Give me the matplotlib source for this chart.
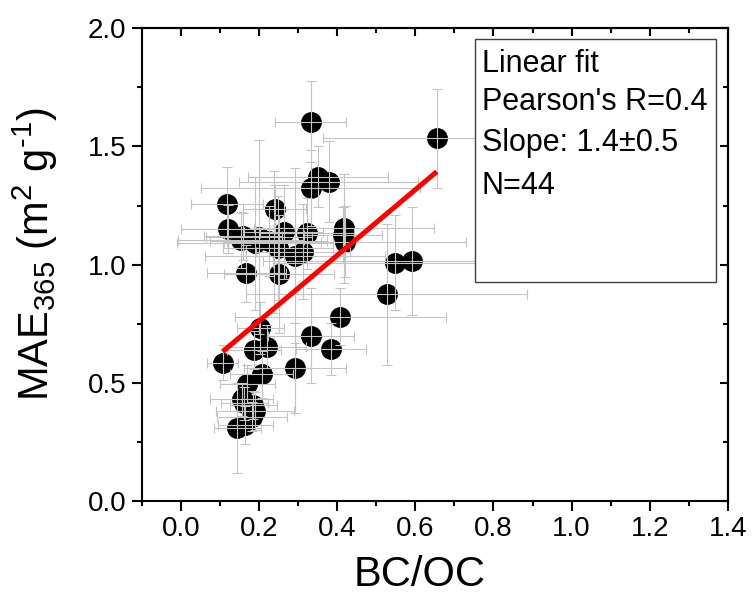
import matplotlib
matplotlib.use("Agg")
import matplotlib.pyplot as plt
from matplotlib.patches import Rectangle
import numpy as np

plt.rcParams['font.family'] = ['Liberation Sans', 'DejaVu Sans']
plt.rcParams['mathtext.fontset'] = 'custom'
plt.rcParams['mathtext.rm'] = 'Liberation Sans'
plt.rcParams['mathtext.it'] = 'Liberation Sans'
plt.rcParams['mathtext.default'] = 'regular'

bc_oc = [0.332, 0.655, 0.351, 0.378, 0.332, 0.118, 0.240, 0.121, 0.154, 0.200,
         0.190, 0.263, 0.239, 0.249, 0.322, 0.312, 0.293, 0.418, 0.420, 0.168,
         0.251, 0.547, 0.591, 0.527, 0.408, 0.332, 0.384, 0.293, 0.107, 0.203,
         0.187, 0.220, 0.207, 0.170, 0.163, 0.185, 0.183, 0.144, 0.165, 0.160,
         0.225, 0.156, 0.190, 0.415]
mae365 = [1.605, 1.535, 1.372, 1.351, 1.323, 1.255, 1.235, 1.151, 1.104, 1.118,
          1.090, 1.139, 1.097, 1.069, 1.133, 1.055, 1.037, 1.154, 1.097, 0.963,
          0.959, 1.008, 1.015, 0.874, 0.780, 0.700, 0.642, 0.561, 0.585, 0.731,
          0.639, 0.653, 0.536, 0.494, 0.413, 0.406, 0.357, 0.310, 0.322, 1.120,
          1.100, 0.430, 0.380, 1.125]
bc_oc_err = [0.09, 0.29, 0.18, 0.23, 0.28, 0.093, 0.08, 0.12, 0.16, 0.136,
             0.20, 0.10, 0.12, 0.14, 0.12, 0.12, 0.23, 0.23, 0.31, 0.10,
             0.14, 0.31, 0.38, 0.36, 0.27, 0.11, 0.09, 0.13, 0.04, 0.06,
             0.07, 0.10, 0.08, 0.07, 0.06, 0.06, 0.09, 0.06, 0.07, 0.10,
             0.15, 0.08, 0.10, 0.10]
mae365_err = [0.17, 0.21, 0.13, 0.17, 0.16, 0.16, 0.10, 0.10, 0.12, 0.41,
              0.28, 0.20, 0.30, 0.22, 0.15, 0.20, 0.37, 0.23, 0.15, 0.12,
              0.25, 0.20, 0.23, 0.30, 0.12, 0.20, 0.11, 0.19, 0.075, 0.11,
              0.08, 0.09, 0.10, 0.08, 0.07, 0.06, 0.06, 0.19, 0.08, 0.10,
              0.15, 0.07, 0.08, 0.12]

fit_slope = 1.39
fit_intercept = 0.483
legend_lines = ["Linear fit", "Pearson's R=0.4", "Slope: 1.4\u00b10.5", "N=44"]

x_ticks = [0.0, 0.2, 0.4, 0.6, 0.8, 1.0, 1.2, 1.4]
y_ticks = [0.0, 0.5, 1.0, 1.5, 2.0]

fig = plt.figure(figsize=(7.56, 5.94), dpi=100)
ax = fig.add_axes([0.1874, 0.1566, 0.9630 - 0.1874, 0.9524 - 0.1566])

ax.plot(bc_oc, mae365, 'o', color='black', markersize=14, zorder=2, linestyle='none')
ax.errorbar(bc_oc, mae365, xerr=bc_oc_err, yerr=mae365_err, fmt='none',
            ecolor='#c4c4c4', elinewidth=0.8, capsize=3.5, capthick=0.8, zorder=3)

xf = np.array([min(bc_oc), max(bc_oc)])
ax.plot(xf, fit_intercept + fit_slope * xf, color='#ff0000', lw=3.6, zorder=4,
        solid_capstyle='butt')

ax.set_xlim(-0.1, 1.4)
ax.set_ylim(0.0, 2.0)
ax.set_xticks(x_ticks)
ax.set_yticks(y_ticks)
ax.set_xticklabels([f"{v:.1f}" for v in x_ticks])
ax.set_yticklabels([f"{v:.1f}" for v in y_ticks])
ax.set_xticks(np.arange(-0.1, 1.41, 0.2), minor=True)
ax.set_yticks([0.25, 0.75, 1.25, 1.75], minor=True)
ax.tick_params(axis='both', which='major', direction='out', length=7, width=1.5,
               labelsize=20, pad=4)
ax.tick_params(axis='both', which='minor', direction='out', length=3.5, width=1.5)

for s in ax.spines.values():
    s.set_linewidth(1.5)

top = ax.secondary_xaxis('top')
top.set_xticks(x_ticks)
top.set_xticks(np.arange(-0.1, 1.41, 0.2), minor=True)
top.tick_params(which='major', direction='in', length=6, width=1.5, labeltop=False)
top.tick_params(which='minor', direction='in', length=3.5, width=1.5)
top.set_xticklabels([])
top.spines['top'].set_linewidth(1.5)

right = ax.secondary_yaxis('right')
right.set_yticks(y_ticks)
right.set_yticks([0.25, 0.75, 1.25, 1.75], minor=True)
right.tick_params(which='major', direction='in', length=6, width=1.5, labelright=False)
right.tick_params(which='minor', direction='in', length=3.5, width=1.5)
right.set_yticklabels([])
right.spines['right'].set_linewidth(1.5)

ax.set_xlabel("BC/OC", fontsize=30, labelpad=9)
ax.xaxis.label.set_x(0.4747)
ax.set_ylabel("MAE$_{365}$ (m$^{2}$ g$^{\u20101}$)", fontsize=30, labelpad=20)
ax.yaxis.label.set_y(0.5225)

box = Rectangle((0.5685, 0.4627), 0.979 - 0.5685, 0.977 - 0.4627, transform=ax.transAxes,
                fill=True, facecolor='white', edgecolor='#404040', lw=1.0, zorder=5)
ax.add_patch(box)
for txt, yy in zip(legend_lines, [0.908, 0.827, 0.741, 0.650]):
    ax.text(0.580, yy, txt, transform=ax.transAxes, fontsize=22, va='baseline',
            ha='left', zorder=6)

fig.savefig("out.png", dpi=100)
